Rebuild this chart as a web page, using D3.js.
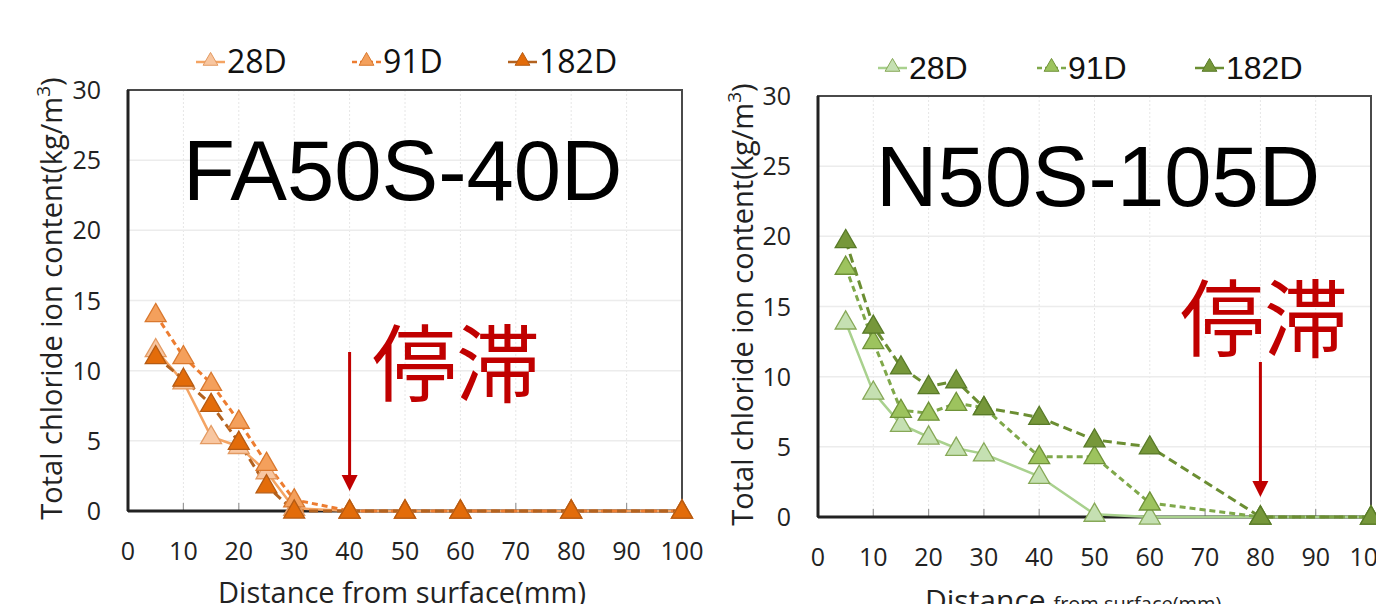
<!DOCTYPE html>
<html>
<head>
<meta charset="utf-8">
<script src="https://cdn.jsdelivr.net/npm/d3@7"></script>
<style>
  body { margin: 0; background: #fff; }
  svg { display: block; }
</style>
</head>
<body>
<svg id="chart"></svg>
<script>
const WIDTH = 1376;
const HEIGHT = 604;

// depth of each sample (mm)
const depth = [5, 10, 15, 20, 25, 30, 40, 50, 60, 80, 100];
const seriesNames = ["28D", "91D", "182D"];

// FA50S-40D chloride content (kg/m3)
const fa28 = [11.5, 9.2, 5.3, 4.6, 2.8, 0.2, 0, 0, 0, 0, 0];
const fa91 = [14.0, 11.0, 9.1, 6.4, 3.4, 0.8, 0, 0, 0, 0, 0];
const fa182 = [11.0, 9.4, 7.6, 4.9, 1.8, 0, 0, 0, 0, 0, 0];

// N50S-105D chloride content (kg/m3)
const n28 = [13.9, 8.9, 6.6, 5.7, 4.9, 4.5, 2.9, 0.2, 0, 0, 0];
const n91 = [17.8, 12.5, 7.6, 7.4, 8.1, 7.8, 4.3, 4.3, 1.0, 0, 0];
const n182 = [19.7, 13.6, 10.7, 9.3, 9.7, 7.8, 7.1, 5.5, 5.0, 0, 0];

const xTicks = d3.range(0, 101, 10);
const yTicks = d3.range(0, 31, 5);

const svg = d3.select("#chart").attr("width", WIDTH).attr("height", HEIGHT);

const TICKFONT = "'Open Sans', sans-serif";

const panels = [
  {
    title: "FA50S-40D", series: [fa28, fa91, fa182],
    box: { x0: 128, x1: 682, y0: 90, y1: 511 },
    fills: ["#f8c6a0", "#f4a05c", "#e36c0a"],
    strokes: ["#e39a62", "#d9782e", "#b55a12"],
    lines: ["#f4a463", "#ed7d31", "#b3621f"],
    titleX: 183, titleY: 200,
    stopX: 40, stopTextX: 372, stopTextY: 395, arrowTop: 352,
    legend: { y: 62, items: [196, 352, 508], font: TICKFONT, size: 32 },
    yTitleX: 62, xTitleSplit: false,
  },
  {
    title: "N50S-105D", series: [n28, n91, n182],
    box: { x0: 818, x1: 1371, y0: 96, y1: 517 },
    fills: ["#c5e0b2", "#9dc35e", "#76973a"],
    strokes: ["#86a857", "#6f9238", "#587a28"],
    lines: ["#a9d18e", "#7fa84a", "#6b8e32"],
    titleX: 876, titleY: 206,
    stopX: 80, stopTextX: 1180, stopTextY: 350, arrowTop: 362,
    legend: { y: 68, items: [878, 1037, 1195], font: "'Liberation Sans', Arial, sans-serif", size: 32 },
    yTitleX: 753, xTitleSplit: true,
  },
];

const dashes = [null, "6,4", "9,5"];
const triangle = d3.symbol().type(d3.symbolTriangle);

panels.forEach((p) => {
  const g = svg.append("g");
  const x = d3.scaleLinear().domain([0, 100]).range([p.box.x0, p.box.x1]);
  const y = d3.scaleLinear().domain([0, 30]).range([p.box.y1, p.box.y0]);

  // grid
  g.append("g").selectAll("line").data(xTicks.slice(1, -1)).join("line")
    .attr("x1", (d) => x(d)).attr("x2", (d) => x(d))
    .attr("y1", p.box.y0).attr("y2", p.box.y1)
    .attr("stroke", "#e6e6e6").attr("stroke-width", 1).attr("stroke-dasharray", "2,2");
  g.append("g").selectAll("line").data(yTicks.slice(1, -1)).join("line")
    .attr("x1", p.box.x0).attr("x2", p.box.x1)
    .attr("y1", (d) => y(d)).attr("y2", (d) => y(d))
    .attr("stroke", "#ececec").attr("stroke-width", 1.5);

  // small inward ticks on the bottom axis
  g.append("g").selectAll("line").data(xTicks.slice(1, -1)).join("line")
    .attr("x1", (d) => x(d)).attr("x2", (d) => x(d))
    .attr("y1", p.box.y1).attr("y2", p.box.y1 - 8)
    .attr("stroke", "#9a9a9a").attr("stroke-width", 1.2);

  // frame
  g.append("rect")
    .attr("x", p.box.x0).attr("y", p.box.y0)
    .attr("width", p.box.x1 - p.box.x0).attr("height", p.box.y1 - p.box.y0)
    .attr("fill", "none").attr("stroke", "#4a4a4a").attr("stroke-width", 2);
  g.append("line").attr("x1", p.box.x0).attr("x2", p.box.x0)
    .attr("y1", p.box.y0).attr("y2", p.box.y1)
    .attr("stroke", "#222").attr("stroke-width", 3);
  g.append("line").attr("x1", p.box.x0).attr("x2", p.box.x1)
    .attr("y1", p.box.y1).attr("y2", p.box.y1)
    .attr("stroke", "#222").attr("stroke-width", 3);

  // tick labels
  g.append("g").selectAll("text").data(xTicks).join("text")
    .attr("x", (d) => x(d)).attr("y", p.box.y1 + 49)
    .attr("text-anchor", "middle")
    .attr("font-family", TICKFONT).attr("font-size", 25).attr("fill", "#222")
    .text((d) => d);
  g.append("g").selectAll("text").data(yTicks).join("text")
    .attr("x", p.box.x0 - 27).attr("y", (d) => y(d) + 9)
    .attr("text-anchor", "end")
    .attr("font-family", TICKFONT).attr("font-size", 25).attr("fill", "#222")
    .text((d) => d);

  // y title
  const yt = g.append("text")
    .attr("transform", `translate(${p.yTitleX},${(p.box.y0 + p.box.y1) / 2 - 2}) rotate(-90)`)
    .attr("text-anchor", "middle")
    .attr("font-family", TICKFONT).attr("font-size", 29).attr("fill", "#222");
  yt.append("tspan").text("Total chloride ion content(kg/m");
  yt.append("tspan").attr("font-size", 19).attr("dy", -12).text("3");
  yt.append("tspan").attr("dy", 12).text(")");

  // x title (cut by the lower edge, as in the source figure)
  if (p.xTitleSplit) {
    const xt = g.append("text").attr("x", 925).attr("y", 611)
      .attr("font-family", TICKFONT).attr("fill", "#222");
    xt.append("tspan").attr("font-size", 30).text("Distance ");
    xt.append("tspan").attr("font-size", 20).text("from surface(mm)");
  } else {
    g.append("text").attr("x", (p.box.x0 + p.box.x1) / 2 - 3).attr("y", 603)
      .attr("text-anchor", "middle")
      .attr("font-family", TICKFONT).attr("font-size", 29).attr("fill", "#222")
      .text("Distance from surface(mm)");
  }

  // series
  const line = d3.line().x((d) => x(d[0])).y((d) => y(d[1]));
  p.series.forEach((vals, i) => {
    const pts = depth.map((d, k) => [d, vals[k]]);
    g.append("path").datum(pts)
      .attr("d", line).attr("fill", "none")
      .attr("stroke", p.lines[i]).attr("stroke-width", i === 0 ? 2.5 : 3)
      .attr("stroke-dasharray", dashes[i]);
  });
  p.series.forEach((vals, i) => {
    g.append("g").selectAll("path").data(depth.map((d, k) => [d, vals[k]])).join("path")
      .attr("transform", (d) => `translate(${x(d[0])},${y(d[1]) + 1})`)
      .attr("d", triangle.size(190)())
      .attr("fill", p.fills[i]).attr("stroke", p.strokes[i]).attr("stroke-width", 1.3);
  });

  // legend
  seriesNames.forEach((name, i) => {
    const lx = p.legend.items[i];
    const ly = p.legend.y;
    g.append("line").attr("x1", lx).attr("x2", lx + 29).attr("y1", ly).attr("y2", ly)
      .attr("stroke", p.lines[i]).attr("stroke-width", 2.5)
      .attr("stroke-dasharray", i === 1 ? "5,3" : null);
    g.append("path").attr("transform", `translate(${lx + 14.5},${ly - 1})`)
      .attr("d", triangle.size(95)())
      .attr("fill", p.fills[i]).attr("stroke", p.strokes[i]).attr("stroke-width", 1);
    g.append("text").attr("x", lx + 31).attr("y", ly + 11)
      .attr("font-family", p.legend.font).attr("font-size", p.legend.size).attr("fill", "#111")
      .text(name);
  });

  // big title
  g.append("text").attr("x", p.titleX).attr("y", p.titleY)
    .attr("font-family", "'Liberation Sans', Arial, sans-serif").attr("font-size", 85)
    .attr("fill", "#000").text(p.title);

  // stagnation label and arrow
  g.append("text").attr("x", p.stopTextX).attr("y", p.stopTextY)
    .attr("font-family", "'Noto Sans CJK JP', sans-serif").attr("font-size", 84)
    .attr("fill", "#c00000").text("停滞");
  const ax = x(p.stopX);
  g.append("line").attr("x1", ax).attr("x2", ax)
    .attr("y1", p.arrowTop).attr("y2", p.box.y1 - 34)
    .attr("stroke", "#c00000").attr("stroke-width", 3);
  g.append("path")
    .attr("d", `M${ax - 8},${p.box.y1 - 36} L${ax + 8},${p.box.y1 - 36} L${ax},${p.box.y1 - 20} Z`)
    .attr("fill", "#c00000");
});
</script>
</body>
</html>
